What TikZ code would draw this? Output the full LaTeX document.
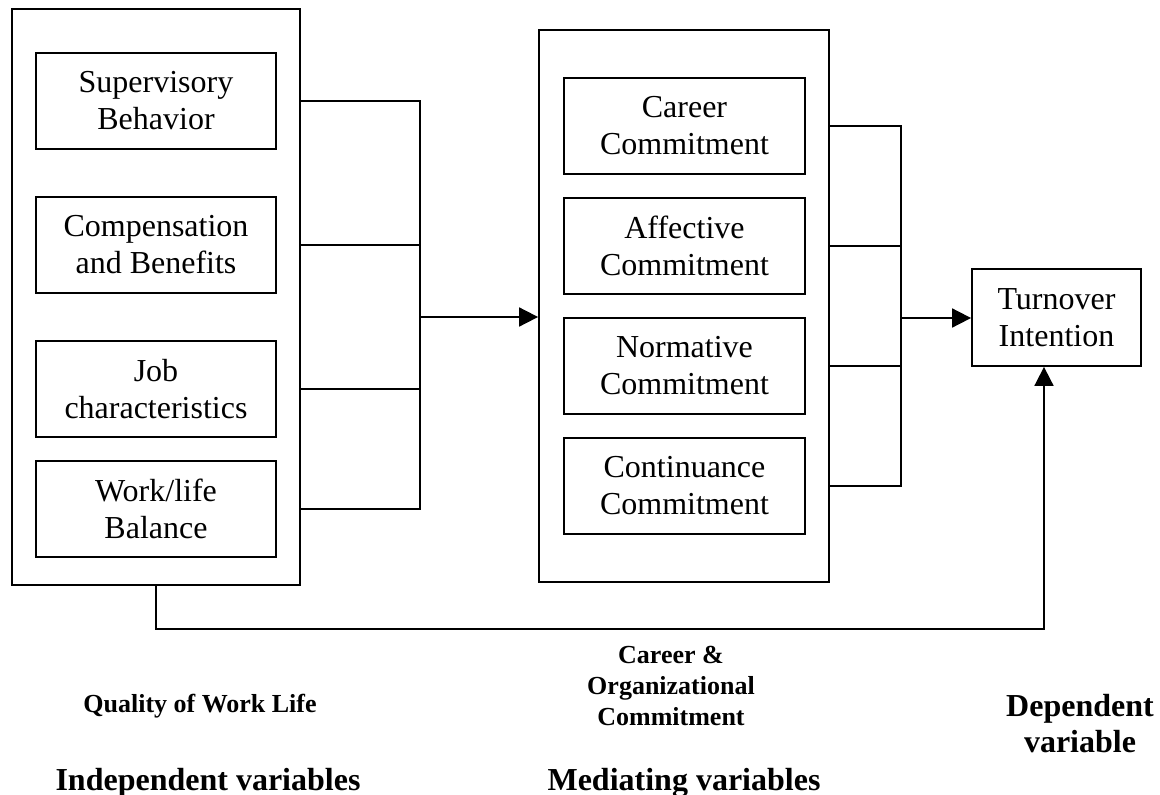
\documentclass[tikz,border=0pt]{standalone}
\usepackage{fontspec}
\setmainfont{Liberation Serif}
\usetikzlibrary{arrows.meta}
\begin{document}
\begin{tikzpicture}[x=1pt,y=-1pt,
  line width=1.8pt,
  outerbox/.style={draw, rectangle, inner sep=0pt},
  varbox/.style={draw, rectangle, inner sep=0pt, align=center,
     font=\fontsize{32}{37}\selectfont},
  caption/.style={inner sep=0pt, align=center, font=\bfseries\fontsize{26}{31}\selectfont},
  bigcaption/.style={inner sep=0pt, align=center, font=\bfseries\fontsize{32}{36}\selectfont},
  arr/.style={-{Triangle[length=19pt,width=19pt]}}]
\useasboundingbox (0,0) rectangle (1160,795);

% outer boxes
\node[outerbox, minimum width=288pt, minimum height=576pt] (L) at (156,297) {};
\node[outerbox, minimum width=290pt, minimum height=552pt] (M) at (684,306) {};

% independent variables
\node[varbox, minimum width=240pt, minimum height=96pt] (sup)  at (156,101) {Supervisory\\Behavior};
\node[varbox, minimum width=240pt, minimum height=96pt] (comp) at (156,245) {Compensation\\and Benefits};
\node[varbox, minimum width=240pt, minimum height=96pt] (job)  at (156,389) {Job\\characteristics};
\node[varbox, minimum width=240pt, minimum height=96pt] (wl)   at (156,509) {Work/life\\Balance};

% mediating variables
\node[varbox, minimum width=241pt, minimum height=96pt] (car) at (684.5,126) {Career\\Commitment};
\node[varbox, minimum width=241pt, minimum height=96pt] (aff) at (684.5,246) {Affective\\Commitment};
\node[varbox, minimum width=241pt, minimum height=96pt] (nor) at (684.5,366) {Normative\\Commitment};
\node[varbox, minimum width=241pt, minimum height=96pt] (con) at (684.5,486) {Continuance\\Commitment};

% dependent variable
\node[varbox, minimum width=169pt, minimum height=97pt] (T) at (1056.5,317.5) {Turnover\\Intention};

% junctions
\coordinate (jL) at (420,317);
\coordinate (jM) at (901,318);
\coordinate (bot) at (1044,629);

% left connectors
\draw (L.east |- sup) -| (jL);
\draw (L.east |- wl) -| (jL);
\draw (L.east |- comp) -- (jL |- comp);
\draw (L.east |- job) -- (jL |- job);
\draw[arr] (jL) -- (M.west |- jL);

% right connectors
\draw (M.east |- car) -| (jM);
\draw (M.east |- con) -| (jM);
\draw (M.east |- aff) -- (jM |- aff);
\draw (M.east |- nor) -- (jM |- nor);
\draw[arr] (jM) -- (T.west |- jM);

% bottom direct path
\draw[arr] (L.south) |- (bot) -- (T.south -| bot);

% captions
\node[caption, anchor=base] (qwl) at (200,712) {Quality of Work Life};
\node[caption] (coc) at (671,686) {Career \&\\Organizational\\Commitment};
\node[bigcaption] (dep) at (1080,724) {Dependent\\variable};
\node[bigcaption, anchor=base] (iv) at (208,790) {Independent variables};
\node[bigcaption, anchor=base] (mv) at (684,790) {Mediating variables};
\end{tikzpicture}
\end{document}
